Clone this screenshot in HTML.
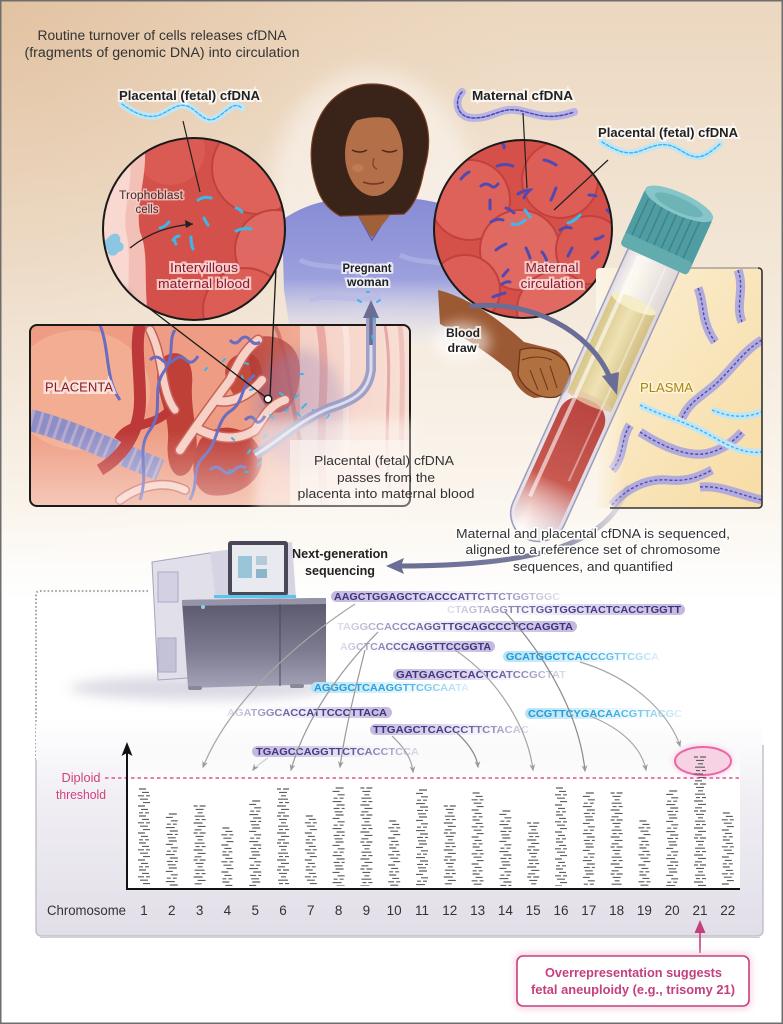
<!DOCTYPE html>
<html><head><meta charset="utf-8"><style>
html,body{margin:0;padding:0;background:#fff;}
svg{display:block;}
text{font-family:"Liberation Sans",sans-serif;}
</style></head><body>
<svg width="783" height="1024" viewBox="0 0 783 1024" xmlns="http://www.w3.org/2000/svg">
<defs>
 <linearGradient id="bgV" x1="0" y1="0" x2="0" y2="1">
  <stop offset="0" stop-color="#ecd7bf"/>
  <stop offset="0.45" stop-color="#f3e7d8"/>
  <stop offset="0.85" stop-color="#fbf6ef"/>
  <stop offset="1" stop-color="#ffffff"/>
 </linearGradient>
 <radialGradient id="bgR" cx="0" cy="0" r="1" gradientUnits="userSpaceOnUse" gradientTransform="translate(0,0) scale(520,560)">
  <stop offset="0" stop-color="#d6a97e" stop-opacity="0.45"/>
  <stop offset="0.6" stop-color="#d6a97e" stop-opacity="0.12"/>
  <stop offset="1" stop-color="#d6a97e" stop-opacity="0"/>
 </radialGradient>
 <linearGradient id="panelG" x1="0" y1="0" x2="0" y2="1">
  <stop offset="0" stop-color="#ffffff"/>
  <stop offset="0.35" stop-color="#f1eff4"/>
  <stop offset="1" stop-color="#e1dee8"/>
 </linearGradient>
 <linearGradient id="chartG" x1="0" y1="0" x2="0" y2="1">
  <stop offset="0" stop-color="#ffffff" stop-opacity="0"/>
  <stop offset="0.25" stop-color="#ffffff" stop-opacity="1"/>
  <stop offset="1" stop-color="#ffffff"/>
 </linearGradient>
 <linearGradient id="shirtG" x1="0" y1="0" x2="0" y2="1">
  <stop offset="0" stop-color="#878bd4"/>
  <stop offset="0.55" stop-color="#9ca0dd"/>
  <stop offset="1" stop-color="#e8e9f6" stop-opacity="0.2"/>
 </linearGradient>
 <linearGradient id="plasmaG" x1="0" y1="0" x2="1" y2="1">
  <stop offset="0" stop-color="#fbefd4"/>
  <stop offset="1" stop-color="#f7dca4"/>
 </linearGradient>
 <linearGradient id="plasmaFade" x1="0" y1="0" x2="1" y2="0">
  <stop offset="0" stop-color="#fbf4e8" stop-opacity="1"/>
  <stop offset="0.18" stop-color="#fbf4e8" stop-opacity="0"/>
 </linearGradient>
 <linearGradient id="bloodG" x1="0" y1="0" x2="0" y2="1">
  <stop offset="0" stop-color="#b8443e"/>
  <stop offset="0.6" stop-color="#c85a52"/>
  <stop offset="1" stop-color="#f0c0b8" stop-opacity="0"/>
 </linearGradient>
 <linearGradient id="plasTube" x1="0" y1="0" x2="1" y2="0">
  <stop offset="0" stop-color="#d8c688"/>
  <stop offset="0.5" stop-color="#efe2b4"/>
  <stop offset="1" stop-color="#d2bf84"/>
 </linearGradient>
 <linearGradient id="glassG" x1="0" y1="0" x2="1" y2="0">
  <stop offset="0" stop-color="#d8d6e6" stop-opacity="0.8"/>
  <stop offset="0.3" stop-color="#ffffff" stop-opacity="0.7"/>
  <stop offset="1" stop-color="#cfcde0" stop-opacity="0.7"/>
 </linearGradient>
 <linearGradient id="machG" x1="0" y1="0" x2="0" y2="1">
  <stop offset="0" stop-color="#57566a"/>
  <stop offset="0.6" stop-color="#7e7c90"/>
  <stop offset="1" stop-color="#a4a2b6"/>
 </linearGradient>
 <linearGradient id="placFadeR" x1="0" y1="0" x2="1" y2="0">
  <stop offset="0" stop-color="#fbf1e8" stop-opacity="0"/>
  <stop offset="1" stop-color="#fbf1e8" stop-opacity="0.9"/>
 </linearGradient>
 <linearGradient id="placFadeB" x1="0" y1="0" x2="0" y2="1">
  <stop offset="0" stop-color="#fdf7f2" stop-opacity="0"/>
  <stop offset="1" stop-color="#fdf7f2" stop-opacity="0.95"/>
 </linearGradient>
 <linearGradient id="arrG" x1="1" y1="0" x2="0" y2="0">
  <stop offset="0" stop-color="#6b6e94" stop-opacity="0.1"/>
  <stop offset="0.35" stop-color="#6b6e94" stop-opacity="0.9"/>
  <stop offset="1" stop-color="#6b6e94"/>
 </linearGradient>
 <linearGradient id="tPR" x1="0" y1="0" x2="1" y2="0">
  <stop offset="0" stop-color="#3e3280"/><stop offset="0.5" stop-color="#4a3e8c"/><stop offset="1" stop-color="#4a3e8c" stop-opacity="0.15"/>
 </linearGradient>
 <linearGradient id="tPL" x1="0" y1="0" x2="1" y2="0">
  <stop offset="0" stop-color="#4a3e8c" stop-opacity="0.15"/><stop offset="0.5" stop-color="#4a3e8c"/><stop offset="1" stop-color="#3e3280"/>
 </linearGradient>
 <linearGradient id="tCR" x1="0" y1="0" x2="1" y2="0">
  <stop offset="0" stop-color="#1d9ad6"/><stop offset="0.5" stop-color="#2aa6e0"/><stop offset="1" stop-color="#2aa6e0" stop-opacity="0.15"/>
 </linearGradient>
 <linearGradient id="bPR" x1="0" y1="0" x2="1" y2="0">
  <stop offset="0" stop-color="#c3b8dd"/><stop offset="0.45" stop-color="#d3cbe6" stop-opacity="0.8"/><stop offset="1" stop-color="#ffffff" stop-opacity="0"/>
 </linearGradient>
 <linearGradient id="bPL" x1="0" y1="0" x2="1" y2="0">
  <stop offset="0" stop-color="#ffffff" stop-opacity="0"/><stop offset="0.55" stop-color="#d3cbe6" stop-opacity="0.8"/><stop offset="1" stop-color="#c3b8dd"/>
 </linearGradient>
 <linearGradient id="bCR" x1="0" y1="0" x2="1" y2="0">
  <stop offset="0" stop-color="#b6e2f5"/><stop offset="0.45" stop-color="#cdebf8" stop-opacity="0.8"/><stop offset="1" stop-color="#ffffff" stop-opacity="0"/>
 </linearGradient>
 <filter id="blur3" x="-50%" y="-50%" width="200%" height="200%"><feGaussianBlur stdDeviation="3"/></filter>
 <filter id="blur6" x="-50%" y="-50%" width="200%" height="200%"><feGaussianBlur stdDeviation="6"/></filter>
 <filter id="blur10" x="-50%" y="-50%" width="200%" height="200%"><feGaussianBlur stdDeviation="10"/></filter>
 <marker id="ag" viewBox="0 0 10 10" refX="8" refY="5" markerWidth="6" markerHeight="6" orient="auto"><path d="M0,1 L10,5 L0,9 L3,5 Z" fill="#9a9a9a"/></marker>
 <pattern id="p1" width="16" height="27" patternUnits="userSpaceOnUse">
  <path d="M3 1H10M6 4.4H13M2 7.8H8M10 7.8H14M4 11.2H12M7 14.6H14M2 18H9M5 21.4H12M3 24.8H7M9 24.8H13" stroke="#5e5e5e" stroke-width="1.15"/>
 </pattern>
 <pattern id="p2" width="16" height="27" patternUnits="userSpaceOnUse">
  <path d="M5 1H13M2 4.4H9M7 7.8H14M3 11.2H7M9 11.2H13M2 14.6H11M6 18H14M3 21.4H9M11 21.4H14M4 24.8H12" stroke="#5e5e5e" stroke-width="1.15"/>
 </pattern>
 <pattern id="p3" width="16" height="27" patternUnits="userSpaceOnUse">
  <path d="M2 1H6M8 1H14M4 4.4H12M6 7.8H11M3 11.2H13M4 14.6H8M10 14.6H14M2 18H11M6 21.4H14M3 24.8H10" stroke="#5e5e5e" stroke-width="1.15"/>
 </pattern>
 <clipPath id="c1"><circle cx="194" cy="229" r="91"/></clipPath>
 <clipPath id="c2"><circle cx="523" cy="229" r="89"/></clipPath>
 <clipPath id="cp"><rect x="30" y="325" width="380" height="181" rx="7"/></clipPath>
 <clipPath id="cpl"><rect x="596" y="268" width="166" height="240" rx="4"/></clipPath>
</defs>

<!-- Background -->
<rect x="0" y="0" width="783" height="1024" fill="#fff"/>
<rect x="0" y="0" width="783" height="600" fill="url(#bgV)"/>
<rect x="0" y="0" width="783" height="600" fill="url(#bgR)"/>

<!-- Title -->
<text x="162" y="40" font-size="13.5" fill="#333" text-anchor="middle" textLength="249" lengthAdjust="spacingAndGlyphs">Routine turnover of cells releases cfDNA</text>
<text x="162" y="57" font-size="13.5" fill="#333" text-anchor="middle" textLength="275" lengthAdjust="spacingAndGlyphs">(fragments of genomic DNA) into circulation</text>

<!-- Woman glow -->
<ellipse cx="372" cy="190" rx="100" ry="120" fill="#fff" opacity="0.45" filter="url(#blur10)"/>

<!-- Woman: shirt -->
<path d="M282,220 C305,204 330,198 350,200 L372,240 L398,198 C425,198 452,205 470,215 C482,240 486,272 482,298 L460,300 L458,345 L292,345 L284,290 Z" fill="url(#shirtG)"/>
<path d="M350,200 L372,240 L398,198" fill="none" stroke="#5b5cb0" stroke-width="1.5"/>
<path d="M300,260 C320,270 340,262 360,275 M400,255 C420,265 440,258 455,270 M310,300 C335,292 355,305 380,296" stroke="#b6b8e6" stroke-width="5" fill="none" opacity="0.6"/>
<!-- neck -->
<path d="M352,182 L394,182 L398,205 L372,238 L350,203 Z" fill="#a0603a"/>
<!-- hair back -->
<path d="M316,185 C300,135 325,84 372,84 C420,84 438,125 424,170 C420,192 414,206 404,214 L340,216 C326,208 320,198 316,185 Z" fill="#3a2318" stroke="#7a3e20" stroke-width="1.2"/>
<!-- face -->
<ellipse cx="374" cy="154" rx="29" ry="42" fill="#b37048"/>
<path d="M343,128 C355,104 392,100 406,126 C392,114 360,114 343,128 Z" fill="#3a2318"/>
<path d="M352,150 q8,4 15,0 M382,150 q8,4 15,0" stroke="#4a2816" stroke-width="1.5" fill="none"/>
<path d="M374,158 q-3,9 3,11" stroke="#7a4020" stroke-width="1.2" fill="none"/>
<path d="M363,182 q11,4 21,0" stroke="#7a3a28" stroke-width="1.8" fill="none"/>
<ellipse cx="358" cy="168" rx="6" ry="4" fill="#c98a60" opacity="0.5"/>
<!-- arm & hand -->
<path d="M438,290 C470,298 500,320 524,342 L556,350 C574,362 576,384 562,395 L534,398 C520,393 514,382 511,372 C490,354 465,338 440,324 Z" fill="#9c5a34"/>
<path d="M520,350 C535,345 555,350 566,362 C574,375 570,392 556,397 C540,400 524,390 518,375 Z" fill="#b0703f" stroke="#6a3418" stroke-width="1.2"/>
<path d="M530,370 l8,20 M540,368 l8,22 M550,366 l7,22 M522,360 q15,-6 30,0" stroke="#6a3418" stroke-width="1" fill="none"/>
<ellipse cx="462" cy="342" rx="28" ry="20" fill="#fff" opacity="0.55" filter="url(#blur6)"/>

<!-- Left circle -->
<g clip-path="url(#c1)">
 <rect x="100" y="135" width="190" height="190" fill="#d4504a"/>
 <circle cx="258" cy="168" r="46" fill="#de615a" stroke="#c2413c" stroke-width="2"/>
 <circle cx="275" cy="250" r="40" fill="#e06862" stroke="#c2413c" stroke-width="2"/>
 <circle cx="170" cy="150" r="35" fill="#da5a54"/>
 <circle cx="245" cy="310" r="42" fill="#dc5c56" stroke="#c2413c" stroke-width="2"/>
 <path d="M100,130 L142,130 C152,170 134,200 140,232 C150,255 142,285 150,330 L100,330 Z" fill="#f2c0b6"/>
 <path d="M100,150 L128,150 C136,180 122,205 126,232 C132,255 126,285 130,330 L100,330 Z" fill="#f8d8d0"/>
 <path d="M108,238 c6,-8 14,-4 12,4 c6,2 4,10 -2,10 c-2,6 -12,4 -10,-2 c-6,-2 -4,-10 0,-12 Z" fill="#7ec4e4" opacity="0.9"/>
 <ellipse cx="115" cy="300" rx="18" ry="14" fill="#a8a6ae" opacity="0.8" filter="url(#blur3)"/>
 <g stroke="#3ab8ea" stroke-width="3" stroke-linecap="round" fill="none">
  <path d="M198,200 q6,-4 13,-2"/><path d="M236,208 q4,1 6,4"/><path d="M204,218 q2,4 4,7"/>
  <path d="M236,231 q8,-4 15,-2"/><path d="M160,228 q5,-1 9,-6"/><path d="M173,240 q3,-4 6,-4"/>
  <path d="M191,237 q0,7 2,12"/><path d="M176,244 l-2,-4"/>
 </g>
 <path d="M130,248 C150,232 170,226 193,224" stroke="#222" stroke-width="1.3" fill="none"/>
 <path d="M193,224 l-8,-4 l1,8 Z" fill="#222"/>
</g>
<circle cx="194" cy="229" r="91" fill="none" stroke="#1a1a1a" stroke-width="2"/>

<!-- Right circle -->
<g clip-path="url(#c2)">
 <rect x="430" y="135" width="190" height="190" fill="#d55049"/>
 <circle cx="470" cy="200" r="40" fill="#de625a" stroke="#c2413c" stroke-width="2"/>
 <circle cx="560" cy="180" r="38" fill="#dc5e57" stroke="#c2413c" stroke-width="2"/>
 <circle cx="520" cy="250" r="40" fill="#e06a62" stroke="#c2413c" stroke-width="2"/>
 <circle cx="590" cy="250" r="34" fill="#da5a53" stroke="#c2413c" stroke-width="2"/>
 <circle cx="465" cy="290" r="35" fill="#dc5e57" stroke="#c2413c" stroke-width="2"/>
 <circle cx="555" cy="310" r="38" fill="#e06a62" stroke="#c2413c" stroke-width="2"/>
 <g stroke="#5248b2" stroke-width="3" stroke-linecap="round" fill="none">
  <path d="M500,142 q5,3 4,6"/><path d="M497,166 q8,-3 16,0"/><path d="M544,160 q6,1 12,5"/><path d="M469,172 q-4,2 -8,7"/>
  <path d="M481,186 q5,-4 10,0 q3,3 7,-2"/><path d="M518,194 q6,-4 12,-4 q-6,6 -6,8"/><path d="M556,188 q-3,8 -5,12"/>
  <path d="M490,200 l0,9"/><path d="M506,208 q5,2 8,5"/><path d="M589,195 q4,0 7,1"/><path d="M607,210 l4,4"/>
  <path d="M491,222 q6,-4 12,-2"/><path d="M560,230 q6,-4 11,-2"/><path d="M603,236 q-4,3 -8,3"/>
  <path d="M496,250 q5,-4 10,-6"/><path d="M526,248 q3,6 4,10"/><path d="M542,252 q4,5 5,10"/><path d="M572,248 q-2,4 -4,8"/>
  <path d="M508,270 q-3,3 -5,6"/><path d="M598,252 q-3,4 -6,6"/><path d="M502,284 q5,-3 8,-2"/><path d="M505,293 q-8,2 -12,4"/>
 </g>
 <g stroke="#3cbaee" stroke-width="3" stroke-linecap="round" fill="none">
  <path d="M525,210 l5,7"/><path d="M525,220 q-6,6 -13,4"/><path d="M580,215 q-5,6 -12,8"/>
 </g>
</g>
<circle cx="523" cy="229" r="89" fill="none" stroke="#1a1a1a" stroke-width="2"/>

<!-- DNA helices -->
<g fill="none" stroke-linecap="round">
 <path d="M122,104 C135,114 150,120 162,114 S182,100 194,110 S210,124 222,114 S236,104 242,108" stroke="#bfe6f7" stroke-width="7"/>
 <path d="M122,104 C135,114 150,120 162,114 S182,100 194,110 S210,124 222,114 S236,104 242,108" stroke="#3cb4e8" stroke-width="1.4" stroke-dasharray="3 2"/>
 <path d="M462,92 C454,100 456,118 474,118 S500,108 516,110 S546,122 574,112" stroke="#b8b4e4" stroke-width="8"/>
 <path d="M462,92 C454,100 456,118 474,118 S500,108 516,110 S546,122 574,112" stroke="#5248b2" stroke-width="1.5" stroke-dasharray="3 2"/>
 <path d="M602,142 C615,150 626,156 640,151 S664,140 680,150 S702,160 720,144" stroke="#bfe6f7" stroke-width="7"/>
 <path d="M602,142 C615,150 626,156 640,151 S664,140 680,150 S702,160 720,144" stroke="#3cb4e8" stroke-width="1.4" stroke-dasharray="3 2"/>
</g>

<!-- Top labels -->
<g font-weight="bold" fill="#222" stroke="#fff" stroke-width="4" paint-order="stroke" stroke-opacity="0.7">
 <text x="119" y="100" font-size="13" textLength="141" lengthAdjust="spacingAndGlyphs">Placental (fetal) cfDNA</text>
 <text x="472" y="100" font-size="13" textLength="101" lengthAdjust="spacingAndGlyphs">Maternal cfDNA</text>
 <text x="598" y="137" font-size="13" textLength="140" lengthAdjust="spacingAndGlyphs">Placental (fetal) cfDNA</text>
</g>
<g stroke="#222" stroke-width="1.2">
 <line x1="183" y1="121" x2="200" y2="192"/>
 <line x1="523" y1="113" x2="527" y2="188"/>
 <line x1="608" y1="160" x2="554" y2="210"/>
</g>

<!-- circle labels -->
<g font-size="11.5" fill="#4a2c2c" stroke="#f8d8d4" stroke-width="3" paint-order="stroke" stroke-opacity="0.7">
 <text x="151" y="199" text-anchor="middle" textLength="64" lengthAdjust="spacingAndGlyphs">Trophoblast</text>
 <text x="147" y="213" text-anchor="middle">cells</text>
</g>
<g font-size="13" fill="#8a1c2c" stroke="#fbe0e0" stroke-width="4" paint-order="stroke" stroke-opacity="0.8">
 <text x="204" y="272" text-anchor="middle" textLength="68" lengthAdjust="spacingAndGlyphs">Intervillous</text>
 <text x="204" y="288" text-anchor="middle" textLength="92" lengthAdjust="spacingAndGlyphs">maternal blood</text>
 <text x="552" y="272" text-anchor="middle" textLength="53" lengthAdjust="spacingAndGlyphs">Maternal</text>
 <text x="552" y="288" text-anchor="middle" textLength="63" lengthAdjust="spacingAndGlyphs">circulation</text>
</g>

<!-- Placenta box -->
<g clip-path="url(#cp)">
 <rect x="30" y="325" width="380" height="181" fill="#ee9d84"/>
 <ellipse cx="80" cy="390" rx="70" ry="60" fill="#f4b39a" opacity="0.7"/>
 <rect x="300" y="325" width="110" height="181" fill="#f4cabe"/>
 <path d="M320,325 C330,380 315,430 325,506" stroke="#e3928a" stroke-width="8" fill="none"/>
 <path d="M345,325 C352,370 340,420 350,506" stroke="#f9ded8" stroke-width="6" fill="none"/>
 <path d="M385,325 C395,380 380,430 392,506" stroke="#d4686a" stroke-width="3" fill="none"/>
 <path d="M400,325 C406,380 398,430 404,506" stroke="#e0908c" stroke-width="5" fill="none"/>
 <path d="M275,325 C290,360 290,400 300,440" stroke="#b84848" stroke-width="4" fill="none" opacity="0.6"/>
 <path d="M160,360 C175,345 195,355 192,385 C190,420 205,445 190,470 C178,485 165,470 168,440 C170,410 150,385 160,360 Z" fill="#bf4036"/>
 <path d="M200,440 C215,420 250,425 260,450 C270,475 240,500 210,495 C190,490 190,460 200,440 Z" fill="#bd3c34"/>
 <path d="M230,360 C245,345 265,355 262,380 C258,400 240,405 232,392 C225,380 222,370 230,360 Z" fill="#c44a3b"/>
 <path d="M250,340 C270,330 300,340 300,370 C300,400 285,420 270,410 C255,398 245,360 250,340 Z" fill="#b23a34" opacity="0.8"/>
 <ellipse cx="300" cy="410" rx="45" ry="60" fill="#8a70b0" opacity="0.35" filter="url(#blur6)"/>
 <path d="M30,420 C70,430 110,450 160,470" stroke="#8c8ec8" stroke-width="22" fill="none"/>
 <path d="M30,420 C70,430 110,450 160,470" stroke="#d6b8c8" stroke-width="22" fill="none" stroke-dasharray="3 6" opacity="0.6"/>
 <path d="M100,470 C125,455 140,430 140,400 C140,370 135,345 140,325" stroke="#bd3838" stroke-width="12" fill="none"/>
 <path d="M118,440 C130,420 150,430 170,410" stroke="#bd3838" stroke-width="9" fill="none"/>
 <g fill="none" stroke-linecap="round">
  <path d="M180,450 C200,420 215,400 230,380 M215,400 C230,405 250,395 262,380 M230,380 C240,360 245,350 258,340 M200,430 C220,440 240,440 255,430 M255,430 C265,415 270,405 285,400" stroke="#c8605a" stroke-width="11"/>
  <path d="M180,450 C200,420 215,400 230,380 M215,400 C230,405 250,395 262,380 M230,380 C240,360 245,350 258,340 M200,430 C220,440 240,440 255,430 M255,430 C265,415 270,405 285,400" stroke="#f7d0c6" stroke-width="8"/>
  <path d="M150,330 C165,360 160,390 175,410 M120,500 C140,485 165,480 185,490" stroke="#c8605a" stroke-width="10"/>
  <path d="M150,330 C165,360 160,390 175,410 M120,500 C140,485 165,480 185,490" stroke="#f7d0c6" stroke-width="7"/>
 </g>
 <g fill="none" stroke="#6a6cc0" stroke-width="3">
  <path d="M140,500 C150,470 135,450 150,430 C165,410 150,390 165,370 C175,355 168,340 175,330"/>
  <path d="M190,500 C200,480 190,470 205,455 C220,440 215,420 232,410 C245,400 240,385 255,375"/>
  <path d="M150,360 q6,-6 12,0 t12,0 t12,0 t12,-4"/>
  <path d="M210,470 q6,-6 12,0 t12,0 t12,-2"/>
  <path d="M230,340 q5,6 10,0 t10,0 t10,2"/>
  <path d="M245,420 q6,-6 10,0 t10,-4"/>
  <path d="M100,325 C110,350 105,380 120,400"/>
 </g>
 <rect x="250" y="325" width="160" height="181" fill="url(#placFadeR)" opacity="0.6"/>
 <rect x="30" y="430" width="380" height="76" fill="url(#placFadeB)" opacity="0.5"/>
 <rect x="290" y="440" width="120" height="66" fill="#fdf8f3" opacity="0.6"/>
 <g stroke="#3ab8ea" stroke-width="2" stroke-linecap="round">
  <path d="M223,361 l2,-2 M245,363 l3,1 M205,370 l2,-2 M242,376 l1,3 M300,374 l3,0 M280,393 l3,2 M250,390 l3,-1 M302,408 l4,-4 M300,416 l-3,-3 M295,398 l3,-3 M286,411 l2,-2 M313,410 l0,3 M327,418 l2,-3 M264,437 l3,-2 M250,450 l-2,3 M258,465 l3,-3 M230,470 l1,3 M245,472 l3,0 M232,438 l2,2 M270,415 l3,3"/>
 </g>
 <path d="M255,455 C280,440 300,420 330,408 C355,400 368,392 371,370 L371,300" stroke="#9ea0c8" stroke-width="10" fill="none"/>
 <path d="M255,455 C280,440 300,420 330,408 C355,400 368,392 371,370 L371,300" stroke="#dcdcec" stroke-width="3" fill="none"/>
</g>
<rect x="30" y="325" width="380" height="181" rx="7" fill="none" stroke="#1a1a1a" stroke-width="2"/>
<rect x="255" y="420" width="158" height="90" fill="#fdf8f3" opacity="0.55" filter="url(#blur6)"/>

<!-- vessel into woman + arrow -->
<path d="M371,345 L371,312" stroke="#9ea0c8" stroke-width="10"/>
<path d="M371,345 L371,314" stroke="#6b6e92" stroke-width="3.5"/>
<path d="M371,300 L363,318 L379,318 Z" fill="#6b6e92"/>
<g stroke="#3ab8ea" stroke-width="2" stroke-linecap="round">
 <path d="M358,300 l3,2 M380,300 l-3,2 M374,318 l1,3 M372,336 l1,3 M367,292 l2,0"/>
</g>

<!-- connectors from circle -->
<line x1="150" y1="309" x2="268" y2="399" stroke="#1a1a1a" stroke-width="1.3"/>
<line x1="276" y1="268" x2="270" y2="397" stroke="#1a1a1a" stroke-width="1.3"/>
<circle cx="268" cy="399" r="3.8" fill="#fff" stroke="#1a1a1a" stroke-width="1.5"/>

<!-- Labels -->
<g font-weight="bold" fill="#222" stroke="#fff" stroke-width="4" paint-order="stroke" stroke-opacity="0.75">
 <text x="367" y="272" font-size="11.5" text-anchor="middle" textLength="49" lengthAdjust="spacingAndGlyphs">Pregnant</text>
 <text x="368" y="286" font-size="11.5" text-anchor="middle" textLength="42" lengthAdjust="spacingAndGlyphs">woman</text>
 <text x="463" y="337" font-size="12" text-anchor="middle" textLength="34" lengthAdjust="spacingAndGlyphs">Blood</text>
 <text x="462" y="352" font-size="12" text-anchor="middle" textLength="29" lengthAdjust="spacingAndGlyphs">draw</text>
</g>
<text x="79" y="391.5" font-size="12.5" fill="#8a1c2c" text-anchor="middle" textLength="68" lengthAdjust="spacingAndGlyphs" stroke="#fde8e0" stroke-width="5" paint-order="stroke" stroke-opacity="0.85">PLACENTA</text>
<g font-size="13" fill="#333" text-anchor="middle">
 <text x="384" y="465" textLength="140" lengthAdjust="spacingAndGlyphs">Placental (fetal) cfDNA</text>
 <text x="386" y="482" textLength="98" lengthAdjust="spacingAndGlyphs">passes from the</text>
 <text x="386" y="498" textLength="177" lengthAdjust="spacingAndGlyphs">placenta into maternal blood</text>
</g>

<!-- Plasma box -->
<g clip-path="url(#cpl)">
 <rect x="596" y="268" width="166" height="240" fill="url(#plasmaG)"/>
 <g fill="none" stroke-linecap="butt">
  <g stroke="#aaa6e0" stroke-width="9" opacity="0.9">
   <path d="M698,288 C705,305 700,320 715,342"/>
   <path d="M738,270 C745,290 735,305 742,322"/>
   <path d="M762,340 C745,350 735,365 720,380 C705,395 690,400 682,418"/>
   <path d="M640,432 C660,445 690,460 712,452 C725,448 735,440 742,432"/>
   <path d="M612,505 C625,490 645,478 668,480 C690,482 702,475 712,470"/>
   <path d="M700,487 C720,485 740,495 762,500"/>
   <path d="M612,470 C625,455 620,440 630,425"/>
  </g>
  <g stroke="#5248b2" stroke-width="1.4" stroke-dasharray="3 2">
   <path d="M698,288 C705,305 700,320 715,342"/>
   <path d="M738,270 C745,290 735,305 742,322"/>
   <path d="M762,340 C745,350 735,365 720,380 C705,395 690,400 682,418"/>
   <path d="M640,432 C660,445 690,460 712,452 C725,448 735,440 742,432"/>
   <path d="M612,505 C625,490 645,478 668,480 C690,482 702,475 712,470"/>
   <path d="M700,487 C720,485 740,495 762,500"/>
   <path d="M612,470 C625,455 620,440 630,425"/>
  </g>
  <g stroke="#bfe6f7" stroke-width="7">
   <path d="M640,405 C660,415 680,420 700,430 C720,440 740,455 762,452"/>
   <path d="M712,410 C725,415 740,420 762,412"/>
  </g>
  <g stroke="#3cb4e8" stroke-width="1.4" stroke-dasharray="3 2">
   <path d="M640,405 C660,415 680,420 700,430 C720,440 740,455 762,452"/>
   <path d="M712,410 C725,415 740,420 762,412"/>
  </g>
 </g>
 <rect x="596" y="268" width="166" height="240" fill="url(#plasmaFade)"/>
</g>
<path d="M680,268 H758 Q762,268 762,272 V504 Q762,508 758,508 H610" fill="none" stroke="#333" stroke-width="1.6"/>
<path d="M680,268 H758" stroke="#c8c0b0" stroke-width="1.6"/>
<text x="640" y="392" font-size="12.5" fill="#a8860e" textLength="53" lengthAdjust="spacingAndGlyphs" stroke="#fdf3da" stroke-width="3" paint-order="stroke">PLASMA</text>

<!-- Tube -->
<g transform="translate(680,202) rotate(24.4)">
 <rect x="-28" y="40" width="56" height="330" rx="28" fill="url(#glassG)" stroke="#9a98b8" stroke-width="1.5" opacity="0.95"/>
 <rect x="-24" y="112" width="48" height="108" fill="url(#plasTube)"/>
 <ellipse cx="0" cy="112" rx="24" ry="6" fill="#f5ecc8"/>
 <rect x="-24" y="218" width="48" height="145" rx="20" fill="url(#bloodG)"/>
 <ellipse cx="0" cy="218" rx="24" ry="5" fill="#e6c8a8" opacity="0.8"/>
 <line x1="-15" y1="66" x2="-15" y2="330" stroke="#fff" stroke-width="4" opacity="0.6"/>
 <line x1="14" y1="66" x2="14" y2="300" stroke="#fff" stroke-width="2" opacity="0.4"/>
 <rect x="-37" y="0" width="74" height="62" rx="6" fill="#4f9da2"/>
 <g stroke="#3d8488" stroke-width="1.5">
  <line x1="-30" y1="10" x2="-30" y2="56"/><line x1="-22" y1="10" x2="-22" y2="58"/><line x1="-14" y1="10" x2="-14" y2="58"/>
  <line x1="-6" y1="10" x2="-6" y2="58"/><line x1="2" y1="10" x2="2" y2="58"/><line x1="10" y1="10" x2="10" y2="58"/>
  <line x1="18" y1="10" x2="18" y2="58"/><line x1="26" y1="10" x2="26" y2="56"/>
 </g>
 <rect x="-37" y="50" width="74" height="14" rx="4" fill="#62acb0"/>
 <ellipse cx="0" cy="2" rx="37" ry="11" fill="#86c6c8"/>
 <ellipse cx="0" cy="3" rx="26" ry="7" fill="#6db4b6"/>
</g>

<!-- blood draw arrow -->
<path d="M472,306 C530,300 590,330 610,378" stroke="#6a6d96" stroke-width="5" fill="none" stroke-linecap="round"/>
<path d="M617,395 L602,376 L619,372 Z" fill="#6a6d96"/>

<!-- sequencing arrow -->
<path d="M628,485 C610,550 520,566 398,566" stroke="url(#arrG)" stroke-width="5" fill="none"/>
<path d="M386,566 L404,558 L401,566 L404,574 Z" fill="#6a6d96"/>

<!-- sequencing text -->
<g font-size="13" fill="#333" text-anchor="middle" stroke="#fff" stroke-width="3" paint-order="stroke">
 <text x="593" y="538" textLength="274" lengthAdjust="spacingAndGlyphs">Maternal and placental cfDNA is sequenced,</text>
 <text x="593" y="554" textLength="255" lengthAdjust="spacingAndGlyphs">aligned to a reference set of chromosome</text>
 <text x="593" y="571" textLength="160" lengthAdjust="spacingAndGlyphs">sequences, and quantified</text>
</g>
<g font-size="13" font-weight="bold" fill="#222" text-anchor="middle">
 <text x="340" y="558" textLength="96" lengthAdjust="spacingAndGlyphs">Next-generation</text>
 <text x="340" y="575" textLength="70" lengthAdjust="spacingAndGlyphs">sequencing</text>
</g>

<!-- dotted frame -->
<path d="M148,591 H40 Q36,591 36,595 V760" fill="none" stroke="#8a8898" stroke-width="1.6" stroke-dasharray="1.6 2.2"/>

<!-- Machine -->
<ellipse cx="200" cy="688" rx="130" ry="12" fill="#bdb9cc" opacity="0.55" filter="url(#blur6)"/>
<path d="M152,562 L216,552 L219,676 L158,680 Z" fill="#e0dfea" stroke="#a8a4bc" stroke-width="1"/>
<rect x="158" y="572" width="20" height="30" fill="#d2d0e2" stroke="#aeaac4" stroke-width="1"/>
<rect x="158" y="638" width="18" height="34" fill="#c4c2d6" stroke="#aeaac4" stroke-width="1"/>
<path d="M210,552 L292,542 L296,598 L216,600 Z" fill="#d6d4e2"/>
<rect x="228" y="541" width="60" height="55" rx="3" fill="#4a4858"/>
<rect x="232" y="545" width="52" height="47" fill="#e8eaf0"/>
<rect x="238" y="556" width="14" height="22" fill="#9ac4d8"/>
<rect x="256" y="556" width="11" height="9" fill="#b4cad8"/>
<rect x="256" y="569" width="11" height="9" fill="#8cb4cc"/>
<rect x="214" y="595" width="82" height="3" fill="#5cc6ea"/>
<path d="M182,600 L326,598 L326,684 L188,688 Z" fill="url(#machG)"/>
<path d="M182,600 L326,598 L326,604 L182,606 Z" fill="#9694a8"/>
<line x1="280" y1="604" x2="280" y2="686" stroke="#4a485a" stroke-width="1"/>
<circle cx="203" cy="607" r="2" fill="#8ad0ee"/>
<rect x="188" y="686" width="14" height="4" rx="2" fill="#8a8898"/>
<rect x="290" y="684" width="14" height="4" rx="2" fill="#8a8898"/>

<!-- Chart panel -->
<rect x="36" y="720" width="727" height="216" rx="6" fill="url(#panelG)"/>
<path d="M763,745 V930 Q763,936 757,936 H42 Q36,936 36,930 V760" fill="none" stroke="#c4c0cc" stroke-width="1.5"/>
<path d="M40,937.5 H760" stroke="#b4b0bc" stroke-width="1" opacity="0.6"/>
<rect x="128" y="745" width="612" height="143" fill="url(#chartG)"/>

<!-- reads -->
<g font-size="10.5" font-weight="bold">
 <rect x="331" y="591" width="200" height="11" rx="5.5" fill="url(#bPR)"/>
 <text x="334" y="600" fill="url(#tPR)" textLength="226" lengthAdjust="spacingAndGlyphs">AAGCTGGAGCTCACCCATTCTTCTGGTGGC</text>
 <rect x="470" y="604" width="215" height="11" rx="5.5" fill="url(#bPL)"/>
 <text x="447" y="613" fill="url(#tPL)" textLength="234" lengthAdjust="spacingAndGlyphs">CTAGTAGGTTCTGGTGGCTACTCACCTGGTT</text>
 <rect x="360" y="621" width="217" height="11" rx="5.5" fill="url(#bPL)"/>
 <text x="337" y="630" fill="url(#tPL)" textLength="236" lengthAdjust="spacingAndGlyphs">TAGGCCACCCAGGTTGCAGCCCTCCAGGTA</text>
 <rect x="355" y="641" width="140" height="11" rx="5.5" fill="url(#bPL)"/>
 <text x="340" y="650" fill="url(#tPL)" textLength="151" lengthAdjust="spacingAndGlyphs">AGCTCACCCAGGTTCCGGTA</text>
 <rect x="503" y="651" width="150" height="11" rx="5.5" fill="url(#bCR)"/>
 <text x="506" y="660" fill="url(#tCR)" textLength="153" lengthAdjust="spacingAndGlyphs">GCATGGCTCACCCGTTCGCA</text>
 <rect x="393" y="669" width="160" height="11" rx="5.5" fill="url(#bPR)"/>
 <text x="396" y="678" fill="url(#tPR)" textLength="170" lengthAdjust="spacingAndGlyphs">GATGAGCTCACTCATCCGCTAT</text>
 <rect x="311" y="682" width="150" height="11" rx="5.5" fill="url(#bCR)"/>
 <text x="314" y="691" fill="url(#tCR)" textLength="155" lengthAdjust="spacingAndGlyphs">AGGGCTCAAGGTTCGCAATA</text>
 <rect x="525" y="708" width="150" height="11" rx="5.5" fill="url(#bCR)"/>
 <text x="528" y="717" fill="url(#tCR)" textLength="154" lengthAdjust="spacingAndGlyphs">CCGTTCYGACAACGTTACGC</text>
 <rect x="250" y="707" width="142" height="11" rx="5.5" fill="url(#bPL)"/>
 <text x="227" y="716" fill="url(#tPL)" textLength="160" lengthAdjust="spacingAndGlyphs">AGATGGCACCATTCCCTTACA</text>
 <rect x="370" y="724" width="150" height="11" rx="5.5" fill="url(#bPR)"/>
 <text x="373" y="733" fill="url(#tPR)" textLength="156" lengthAdjust="spacingAndGlyphs">TTGAGCTCACCCTTCTACAC</text>
 <rect x="252" y="746" width="155" height="11" rx="5.5" fill="url(#bPR)"/>
 <text x="256" y="755" fill="url(#tPR)" textLength="163" lengthAdjust="spacingAndGlyphs">TGAGCCAGGTTCTCACCTCCA</text>
</g>

<!-- gray arrows -->
<g fill="none" stroke="#a6a6a6" stroke-width="1.2" marker-end="url(#ag)">
 <path d="M355,604 C300,640 230,700 203,767"/>
 <path d="M268,758 C262,762 256,766 253,770" stroke="#cfcfcf"/>
 <path d="M378,632 C340,670 305,720 291,770" stroke="#999"/>
 <path d="M365,650 C355,690 345,730 340,767" stroke="#999"/>
 <path d="M392,736 C405,748 412,760 413,772"/>
 <path d="M457,733 C470,745 477,757 478,767" stroke="#888"/>
 <path d="M455,650 C500,680 528,730 533,770"/>
 <path d="M505,612 C550,660 580,720 585,771" stroke="#888"/>
 <path d="M590,716 C625,730 642,750 646,770"/>
 <path d="M580,662 C640,680 672,720 680,746"/>
</g>

<!-- pink circle -->
<ellipse cx="703" cy="761" rx="30" ry="16" fill="#f4b4d2" opacity="0.55" filter="url(#blur3)"/>
<ellipse cx="703" cy="761" rx="28" ry="14" fill="#f8d2e4" opacity="0.7" stroke="#e3368a" stroke-width="2"/>

<!-- columns -->
<g>
 <g transform="translate(136,788)"><rect width="16" height="98" fill="url(#p1)"/></g>
 <g transform="translate(163.8,813)"><rect width="16" height="73" fill="url(#p2)"/></g>
 <g transform="translate(191.6,805)"><rect width="16" height="81" fill="url(#p3)"/></g>
 <g transform="translate(219.4,827)"><rect width="16" height="59" fill="url(#p1)"/></g>
 <g transform="translate(247.2,800)"><rect width="16" height="86" fill="url(#p2)"/></g>
 <g transform="translate(275,788)"><rect width="16" height="98" fill="url(#p3)"/></g>
 <g transform="translate(302.8,815)"><rect width="16" height="71" fill="url(#p1)"/></g>
 <g transform="translate(330.6,787)"><rect width="16" height="99" fill="url(#p2)"/></g>
 <g transform="translate(358.4,787)"><rect width="16" height="99" fill="url(#p3)"/></g>
 <g transform="translate(386.2,820)"><rect width="16" height="66" fill="url(#p1)"/></g>
 <g transform="translate(414,789)"><rect width="16" height="97" fill="url(#p2)"/></g>
 <g transform="translate(441.8,805)"><rect width="16" height="81" fill="url(#p3)"/></g>
 <g transform="translate(469.6,792)"><rect width="16" height="94" fill="url(#p1)"/></g>
 <g transform="translate(497.4,810)"><rect width="16" height="76" fill="url(#p2)"/></g>
 <g transform="translate(525.2,822)"><rect width="16" height="64" fill="url(#p3)"/></g>
 <g transform="translate(553,787)"><rect width="16" height="99" fill="url(#p1)"/></g>
 <g transform="translate(580.8,792)"><rect width="16" height="94" fill="url(#p2)"/></g>
 <g transform="translate(608.6,792)"><rect width="16" height="94" fill="url(#p3)"/></g>
 <g transform="translate(636.4,820)"><rect width="16" height="66" fill="url(#p1)"/></g>
 <g transform="translate(664.2,790)"><rect width="16" height="96" fill="url(#p2)"/></g>
 <g transform="translate(692,756)"><rect width="16" height="130" fill="url(#p3)"/></g>
 <g transform="translate(719.8,812)"><rect width="16" height="74" fill="url(#p1)"/></g>
</g>

<!-- diploid threshold -->
<line x1="105" y1="778" x2="740" y2="778" stroke="#e0307a" stroke-width="1.3" stroke-dasharray="3.5 3"/>
<g font-size="12.5" fill="#d0407e" text-anchor="middle">
 <text x="81" y="782" textLength="39" lengthAdjust="spacingAndGlyphs">Diploid</text>
 <text x="81" y="799" textLength="50" lengthAdjust="spacingAndGlyphs">threshold</text>
</g>

<!-- axes -->
<path d="M127,889 V752" stroke="#111" stroke-width="2" fill="none"/>
<path d="M127,742 L121.5,756 L127,753 L132.5,756 Z" fill="#111"/>
<path d="M126,889 H740" stroke="#111" stroke-width="2"/>

<!-- chromosome labels -->
<g font-size="13.5" fill="#333" text-anchor="middle">
 <text x="86.5" y="915" textLength="79" lengthAdjust="spacingAndGlyphs">Chromosome</text>
 <text x="144" y="915">1</text><text x="171.8" y="915">2</text><text x="199.6" y="915">3</text>
 <text x="227.4" y="915">4</text><text x="255.2" y="915">5</text><text x="283" y="915">6</text>
 <text x="310.8" y="915">7</text><text x="338.6" y="915">8</text><text x="366.4" y="915">9</text>
 <text x="394.2" y="915">10</text><text x="422" y="915">11</text><text x="449.8" y="915">12</text>
 <text x="477.6" y="915">13</text><text x="505.4" y="915">14</text><text x="533.2" y="915">15</text>
 <text x="561" y="915">16</text><text x="588.8" y="915">17</text><text x="616.6" y="915">18</text>
 <text x="644.4" y="915">19</text><text x="672.2" y="915">20</text><text x="700" y="915">21</text>
 <text x="727.8" y="915">22</text>
</g>

<!-- callout -->
<line x1="700" y1="953" x2="700" y2="930" stroke="#c4407e" stroke-width="1.6"/>
<path d="M700,920 L694.5,933 L705.5,933 Z" fill="#c4407e"/>
<rect x="514" y="952" width="238" height="58" rx="8" fill="#f6c4da" opacity="0.6" filter="url(#blur3)"/>
<rect x="517" y="956" width="232" height="50" rx="6" fill="#fff" stroke="#c4407e" stroke-width="1.6"/>
<g font-size="13" font-weight="bold" fill="#c4407e" text-anchor="middle">
 <text x="633.5" y="977" textLength="177" lengthAdjust="spacingAndGlyphs">Overrepresentation suggests</text>
 <text x="633" y="994" textLength="204" lengthAdjust="spacingAndGlyphs">fetal aneuploidy (e.g., trisomy 21)</text>
</g>

<!-- outer frame -->
<rect x="0.75" y="0.75" width="781.5" height="1022.5" fill="none" stroke="#6e6e6e" stroke-width="1.5"/>
</svg>
</body></html>
